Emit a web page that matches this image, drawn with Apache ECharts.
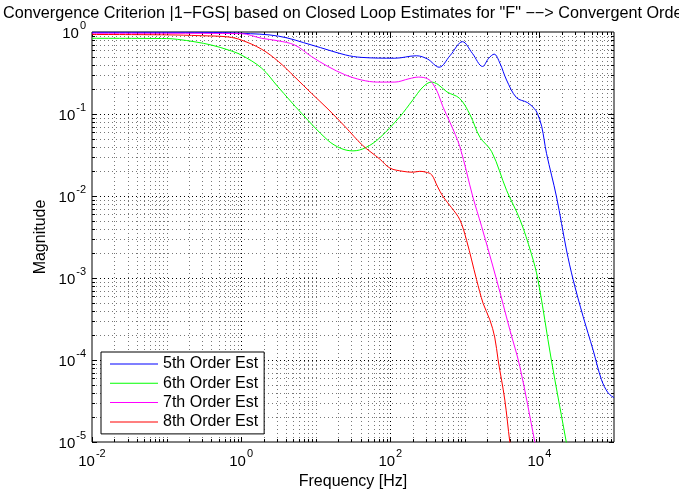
<!DOCTYPE html>
<html><head><meta charset="utf-8">
<script src="https://cdn.jsdelivr.net/npm/echarts@6/dist/echarts.min.js"></script>
<style>html,body{margin:0;padding:0;background:#fff}#c{width:679px;height:491px}</style>
</head><body><div id="c"></div>
<script>
// ---- data (frequency in Hz, magnitude) ----
const seriesNames = ['5th Order Est', '6th Order Est', '7th Order Est', '8th Order Est'];
const seriesColors = ['#0000ff', '#00ff00', '#ff00ff', '#ff0000'];

const freq5 = [0.01, 0.1, 0.316, 1, 3.16, 8.91, 25.1, 41.2, 115, 224, 316, 452, 631, 931, 1259, 1726, 2089, 2472, 2951, 3622, 4932, 6887, 8511, 9376, 10715, 12445, 16943, 23067, 28314, 38548, 52481, 67920, 83176, 100000];
const mag5  = [0.991, 0.991, 0.989, 0.964, 0.891, 0.692, 0.525, 0.490, 0.479, 0.513, 0.468, 0.372, 0.513, 0.762, 0.550, 0.380, 0.479, 0.537, 0.417, 0.260, 0.158, 0.138, 0.117, 0.102, 0.0708, 0.0331, 0.00977, 0.00219, 0.000955, 0.000339, 0.000132, 0.0000575, 0.0000398, 0.0000347];

const freq6 = [0.01, 0.1, 0.141, 0.240, 0.403, 0.676, 1, 1.88, 3.11, 6.46, 14.5, 21.9, 31.6, 46.8, 72.4, 135, 200, 275, 355, 437, 575, 851, 1175, 1585, 2291, 3631, 5495, 7762, 9550, 14454, 22909, 25119];
const mag6  = [0.838, 0.832, 0.813, 0.759, 0.692, 0.603, 0.525, 0.363, 0.215, 0.102, 0.0479, 0.0380, 0.0355, 0.0389, 0.0513, 0.0933, 0.148, 0.214, 0.245, 0.229, 0.186, 0.155, 0.0977, 0.0525, 0.0347, 0.0117, 0.00513, 0.00200, 0.000955, 0.0001, 0.00001, 0.0000063];

const freq7 = [0.01, 0.1, 1, 1.88, 3.09, 5.26, 8.81, 14.6, 24.5, 41.2, 67.6, 115, 178, 240, 316, 372, 437, 507, 631, 857, 1279, 1675, 2661, 4009, 5458, 8670, 9550];
const mag7  = [0.964, 0.964, 0.955, 0.838, 0.783, 0.692, 0.501, 0.380, 0.302, 0.260, 0.245, 0.245, 0.269, 0.282, 0.269, 0.234, 0.178, 0.123, 0.0794, 0.0398, 0.00977, 0.00427, 0.000955, 0.000234, 0.0000832, 0.00001, 0.0000063];

const freq8 = [0.01, 0.1, 0.281, 0.665, 1.02, 1.88, 3.16, 5.26, 8.81, 14.6, 25.1, 42.3, 72.4, 98.9, 148, 200, 249, 302, 358, 427, 512, 661, 857, 1054, 1435, 1758, 2163, 2512, 2793, 3436, 4009, 4365];
const mag8  = [0.933, 0.923, 0.902, 0.871, 0.794, 0.617, 0.437, 0.282, 0.178, 0.115, 0.0692, 0.0417, 0.0282, 0.0219, 0.0200, 0.0195, 0.0200, 0.0195, 0.0182, 0.0132, 0.00977, 0.00724, 0.00513, 0.00288, 0.000955, 0.000490, 0.000309, 0.000191, 0.0001, 0.0000324, 0.00001, 0.0000063];

const xRange = [1e-2, 1e5];
const yRange = [1e-5, 1];
const xLabelExps = [-2, 0, 2, 4];          // labelled decades on x
const yLabelExps = [-5, -4, -3, -2, -1, 0]; // labelled decades on y

const titleText = 'Convergence Criterion |1\u2212FGS| based on Closed Loop Estimates for "F" \u2212\u2212> Convergent Order';
const xName = 'Frequency [Hz]';
const yName = 'Magnitude';

// ---- grid/tick values (log decades & sub-decades) ----
const gridItems = [];
for (let k = -2; k <= 4; k++) for (let d = 1; d <= 9; d++) {
  const v = +(d * Math.pow(10, k)).toPrecision(6);
  gridItems.push({axis: 'x', v, major: d === 1 && xLabelExps.includes(k)});
}
for (let k = -5; k <= -1; k++) for (let d = 1; d <= 9; d++) {
  const v = +(d * Math.pow(10, k)).toPrecision(6);
  gridItems.push({axis: 'y', v, major: d === 1});
}

const FONT = "'Liberation Sans', Arial, Helvetica, sans-serif";
const chart = echarts.init(document.getElementById('c'), null, {renderer: 'canvas'});

function expLabel(v) {
  const e = Math.round(Math.log10(v));
  return '{b|10}{s|' + (e < 0 ? '-' + (-e) : '' + e) + '}';
}
const rich = {
  b: {fontSize: 15, lineHeight: 18, padding: [4, 0, 0, 0], fontFamily: FONT, color: '#000'},
  s: {fontSize: 11, lineHeight: 10, padding: [0, 0, 12, 1], fontFamily: FONT, color: '#000'}
};

function px(v) { return Math.round(v) + 0.5; }

function renderGrid(params, api) {
  const g = gridItems[params.dataIndex];
  const ch = [];
  const gridStyle = {stroke: g.major ? '#000' : '#777', lineWidth: 1, lineDash: [1, 3]};
  const tickStyle = {stroke: '#000', lineWidth: 1};
  const L = g.major ? 5 : 3;
  if (g.axis === 'x') {
    const p0 = api.coord([g.v, yRange[0]]), p1 = api.coord([g.v, yRange[1]]);
    const x = px(p0[0]);
    if (g.v > xRange[0] && g.v < xRange[1]) {
      ch.push({type: 'line', shape: {x1: x, y1: p0[1], x2: x, y2: p1[1]}, style: gridStyle});
    }
    ch.push({type: 'line', shape: {x1: x, y1: p0[1], x2: x, y2: p0[1] - L}, style: tickStyle});
    ch.push({type: 'line', shape: {x1: x, y1: p1[1], x2: x, y2: p1[1] + L}, style: tickStyle});
  } else {
    const p0 = api.coord([xRange[0], g.v]), p1 = api.coord([xRange[1], g.v]);
    const y = px(p0[1]);
    if (g.v > yRange[0] && g.v < yRange[1]) {
      ch.push({type: 'line', shape: {x1: p0[0], y1: y, x2: p1[0], y2: y}, style: gridStyle});
    }
    ch.push({type: 'line', shape: {x1: p0[0], y1: y, x2: p0[0] + L, y2: y}, style: tickStyle});
    ch.push({type: 'line', shape: {x1: p1[0], y1: y, x2: p1[0] - L, y2: y}, style: tickStyle});
  }
  return {type: 'group', children: ch};
}

const curves = [[freq5, mag5], [freq6, mag6], [freq7, mag7], [freq8, mag8]];
const lineSeries = curves.map((c, i) => ({
  name: seriesNames[i],
  type: 'line',
  data: c[0].map((f, j) => [f, c[1][j]]),
  symbol: 'none',
  smooth: 0.35,
  clip: true,
  z: 3,
  lineStyle: {color: seriesColors[i], width: 1},
  itemStyle: {color: seriesColors[i]}
}));

chart.setOption({
  animation: false,
  backgroundColor: '#fff',
  title: {
    text: titleText, left: 3, top: 6, padding: 0,
    textStyle: {fontSize: 16.2, fontWeight: 'normal', color: '#000', fontFamily: FONT}
  },
  grid: {left: 92, top: 32, width: 522, height: 410, containLabel: false, outerBoundsMode: 'none',
         show: true, borderColor: '#000', borderWidth: 1, backgroundColor: '#fff'},
  legend: {
    left: 101, top: 352, orient: 'vertical', padding: [4, 6, 4, 9], itemGap: 3.3,
    icon: 'rect', itemWidth: 48, itemHeight: 1,
    borderColor: '#000', borderWidth: 1, backgroundColor: '#fff',
    textStyle: {fontSize: 16, fontFamily: FONT, color: '#000'},
    data: seriesNames, selectedMode: false
  },
  xAxis: {
    type: 'log', logBase: 10, min: xRange[0], max: xRange[1],
    name: xName, nameLocation: 'middle', nameGap: 32, nameMoveOverlap: false,
    nameTextStyle: {fontSize: 16, fontFamily: FONT, color: '#000'},
    axisLine: {show: false}, axisTick: {show: false}, splitLine: {show: false}, minorTick: {show: false},
    axisLabel: {
      margin: 9, rich,
      formatter: v => xLabelExps.includes(Math.round(Math.log10(v))) ? expLabel(v) : ''
    }
  },
  yAxis: {
    type: 'log', logBase: 10, min: yRange[0], max: yRange[1],
    name: yName, nameLocation: 'middle', nameGap: 43, nameMoveOverlap: false,
    nameTextStyle: {fontSize: 16, fontFamily: FONT, color: '#000'},
    axisLine: {show: false}, axisTick: {show: false}, splitLine: {show: false},
    axisLabel: {margin: 6, rich, formatter: v => expLabel(v)}
  },
  series: [{
    type: 'custom', silent: true, z: 1,
    renderItem: renderGrid,
    data: gridItems.map(g => g.axis === 'x' ? [g.v, 1e-3] : [1, g.v])
  }].concat(lineSeries)
});
</script></body></html>
